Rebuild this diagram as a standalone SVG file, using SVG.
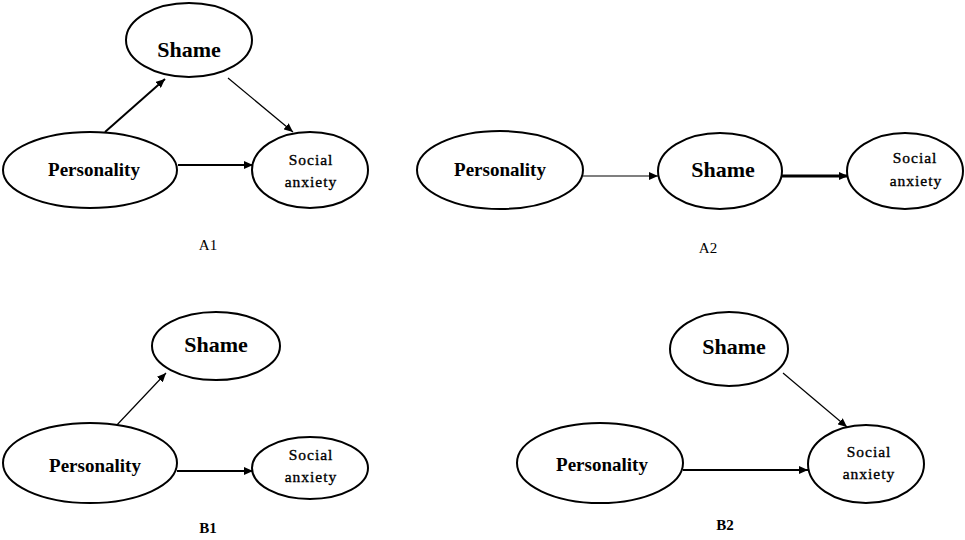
<svg xmlns="http://www.w3.org/2000/svg" width="965" height="540" viewBox="0 0 965 540">
<style>
.node ellipse{fill:#fff;stroke:#000;stroke-width:2}
.big{font-family:"Liberation Serif","Times New Roman",serif;font-weight:bold;font-size:22px;text-anchor:middle;fill:#000}
.pers{font-family:"Liberation Serif","Times New Roman",serif;font-weight:bold;font-size:19px;text-anchor:middle;fill:#000}
.sa{font-family:"Liberation Serif","Times New Roman",serif;font-size:15.5px;letter-spacing:1px;text-anchor:middle;fill:#000;stroke:#000;stroke-width:0.35}
.lbl{font-family:"Liberation Serif","Times New Roman",serif;font-size:15px;text-anchor:middle;fill:#000}
.lblb{font-family:"Liberation Serif","Times New Roman",serif;font-size:15px;font-weight:bold;text-anchor:middle;fill:#000}
.edge{stroke:#000;fill:none;marker-end:url(#ah)}
.t1{stroke-width:1.2}
.t2{stroke-width:2}
.t3{stroke-width:3}
</style>
<defs>
<marker id="ah" markerUnits="userSpaceOnUse" markerWidth="10" markerHeight="8" refX="9" refY="4" orient="auto">
<path d="M0,0 L9,4 L0,8 Z" fill="#000"/>
</marker>
</defs>
<rect width="965" height="540" fill="#fff"/>
<g id="connectors">
<line class="edge t2" x1="105" y1="132" x2="165" y2="79"/>
<line class="edge t1" x1="228" y1="78" x2="293" y2="132"/>
<line class="edge t2" x1="178" y1="165" x2="253" y2="165"/>
<line class="edge t1" x1="583" y1="176" x2="658" y2="176"/>
<line class="edge t3" x1="782" y1="176" x2="848" y2="176"/>
<line class="edge t1" x1="115" y1="427" x2="166" y2="373"/>
<line class="edge t2" x1="177" y1="471" x2="253" y2="471"/>
<line class="edge t1" x1="783" y1="373" x2="847" y2="427"/>
<line class="edge t2" x1="683" y1="470" x2="808" y2="470"/>
</g>
<g id="a1-shame" class="node"><ellipse cx="189" cy="40" rx="63" ry="37"/><text class="big" x="189" y="57">Shame</text></g>
<g id="a1-personality" class="node"><ellipse cx="90" cy="170" rx="87" ry="38"/><text class="pers" x="94" y="176">Personality</text></g>
<g id="a1-social" class="node"><ellipse cx="310" cy="170" rx="58" ry="38"/><text class="sa" x="311" y="165">Social</text><text class="sa" x="311" y="187">anxiety</text></g>
<text id="a1-label" class="lbl" x="208" y="250">A1</text>
<g id="a2-personality" class="node"><ellipse cx="500" cy="170" rx="83" ry="39"/><text class="pers" x="500" y="176">Personality</text></g>
<g id="a2-shame" class="node"><ellipse cx="720" cy="171" rx="62" ry="38"/><text class="big" x="723" y="177">Shame</text></g>
<g id="a2-social" class="node"><ellipse cx="905" cy="171" rx="58" ry="38"/><text class="sa" x="915" y="163">Social</text><text class="sa" x="916" y="186">anxiety</text></g>
<text id="a2-label" class="lbl" x="708" y="253">A2</text>
<g id="b1-shame" class="node"><ellipse cx="216" cy="346" rx="64" ry="34"/><text class="big" x="216" y="352">Shame</text></g>
<g id="b1-personality" class="node"><ellipse cx="90" cy="463" rx="87" ry="40"/><text class="pers" x="95" y="472">Personality</text></g>
<g id="b1-social" class="node"><ellipse cx="310" cy="468" rx="58" ry="31"/><text class="sa" x="311" y="460">Social</text><text class="sa" x="311" y="482">anxiety</text></g>
<text id="b1-label" class="lblb" x="208" y="533">B1</text>
<g id="b2-shame" class="node"><ellipse cx="729" cy="349" rx="59" ry="37"/><text class="big" x="734" y="354">Shame</text></g>
<g id="b2-personality" class="node"><ellipse cx="600" cy="463" rx="83" ry="40"/><text class="pers" x="602" y="471">Personality</text></g>
<g id="b2-social" class="node"><ellipse cx="866" cy="464" rx="58" ry="39"/><text class="sa" x="869" y="457">Social</text><text class="sa" x="869" y="479">anxiety</text></g>
<text id="b2-label" class="lblb" x="725" y="530">B2</text>
</svg>
